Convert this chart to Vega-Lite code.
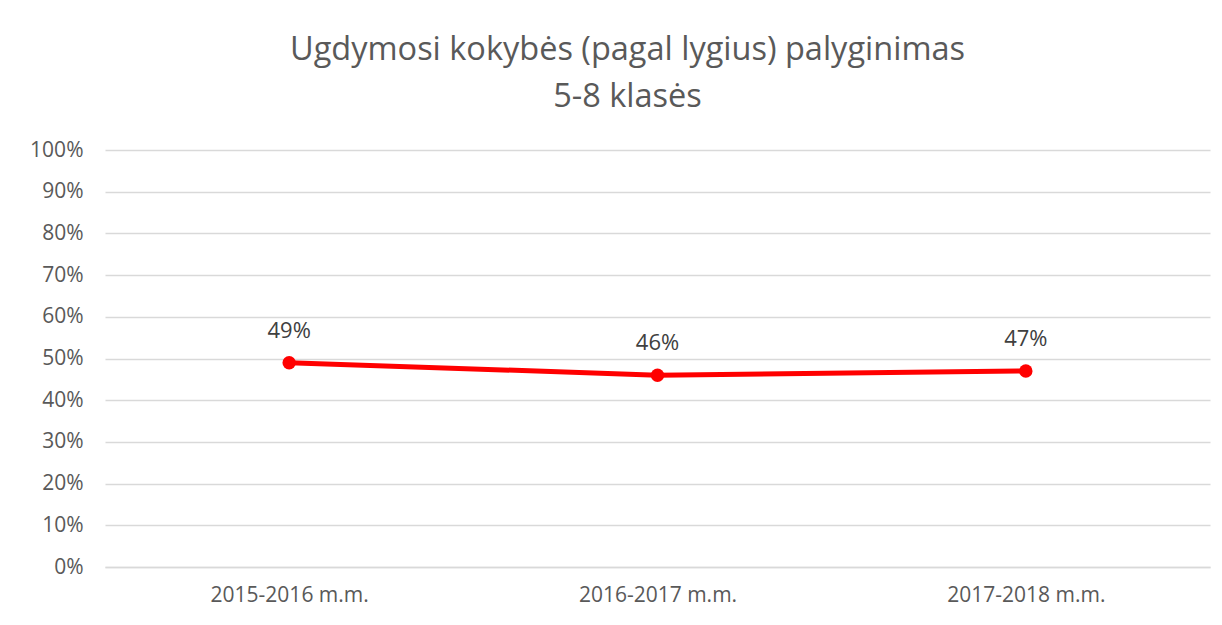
{
  "$schema": "https://vega.github.io/schema/vega-lite/v6.json",
  "autosize": "none",
  "width": 1105,
  "height": 417,
  "padding": {"left": 105, "top": 150, "right": 12, "bottom": 58},
  "background": "white",
  "title": {
    "text": ["Ugdymosi kokybės (pagal lygius) palyginimas", "5-8 klasės"],
    "font": "Open Sans",
    "fontSize": 32.5,
    "fontWeight": "normal",
    "color": "#595959",
    "lineHeight": 47,
    "anchor": "middle",
    "dx": -30,
    "offset": 26
  },
  "config": {
    "view": {"stroke": null},
    "font": "Open Sans"
  },
  "data": {
    "values": [
      {"metai": "2015-2016 m.m.", "reiksme": 0.49},
      {"metai": "2016-2017 m.m.", "reiksme": 0.46},
      {"metai": "2017-2018 m.m.", "reiksme": 0.47}
    ]
  },
  "encoding": {
    "x": {
      "field": "metai",
      "type": "nominal",
      "sort": null,
      "scale": {"type": "point", "padding": 0.5},
      "axis": {
        "title": null,
        "labelAngle": 0,
        "labelFontSize": 21,
        "labelColor": "#595959",
        "labelPadding": 17,
        "ticks": false,
        "domainColor": "#d9d9d9",
        "domainWidth": 1.3,
        "grid": false
      }
    },
    "y": {
      "field": "reiksme",
      "type": "quantitative",
      "scale": {"domain": [0, 1], "nice": false},
      "axis": {
        "title": null,
        "format": ".0%",
        "values": [0, 0.1, 0.2, 0.3, 0.4, 0.5, 0.6, 0.7, 0.8, 0.9, 1],
        "labelFontSize": 21,
        "labelColor": "#595959",
        "labelPadding": 22,
        "ticks": false,
        "domain": false,
        "gridColor": "#d9d9d9",
        "gridWidth": 1.3
      }
    }
  },
  "layer": [
    {
      "mark": {"type": "line", "color": "#ff0000", "strokeWidth": 5},
      "encoding": {}
    },
    {
      "mark": {"type": "point", "filled": true, "color": "#ff0000", "size": 180, "opacity": 1},
      "encoding": {}
    },
    {
      "mark": {"type": "text", "dy": -32, "fontSize": 22, "color": "#404040", "font": "Open Sans"},
      "encoding": {
        "text": {"field": "reiksme", "type": "quantitative", "format": ".0%"}
      }
    }
  ]
}
